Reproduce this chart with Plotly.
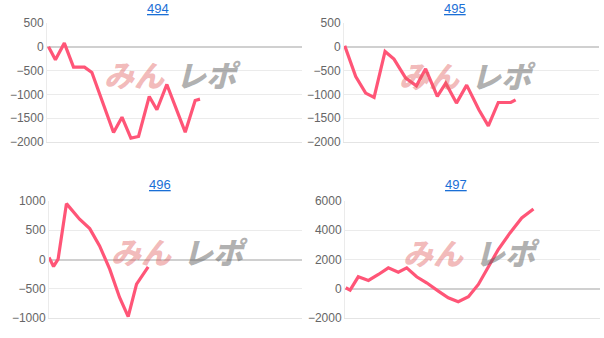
import plotly.graph_objects as go

titles = ["494", "495", "496", "497"]

x494 = [0.6, 3.3, 6.8, 10.4, 14.7, 17.6, 26.1, 29.4, 32.9, 35.9, 40.1, 43.1, 47.0, 54.2, 58.1, 60.0]
y494 = [0, -273, 77, -427, -427, -540, -1800, -1478, -1919, -1884, -1043, -1323, -791, -1793, -1127, -1100]

x495 = [0.3, 4.6, 8.5, 11.8, 16.1, 19.6, 24.2, 28.4, 32.0, 36.6, 39.9, 44.1, 48.1, 52.9, 56.6, 60.5, 65.4, 67.3]
y495 = [20, -623, -973, -1064, -98, -259, -658, -820, -462, -1043, -763, -1183, -805, -1323, -1660, -1170, -1170, -1113]

x496 = [0.0, 1.8, 3.6, 6.9, 12.1, 16.1, 20.0, 24.0, 27.9, 31.3, 34.6, 39.2]
y496 = [34, -119, 6, 955, 688, 528, 233, -165, -648, -977, -420, -125]

x497 = [0.3, 2.0, 5.2, 9.2, 13.1, 17.0, 20.9, 24.2, 28.1, 32.0, 36.6, 40.5, 44.4, 48.4, 52.3, 56.2, 60.1, 64.7, 69.3, 73.9]
y497 = [68, -90, 818, 568, 977, 1432, 1136, 1432, 818, 409, -159, -614, -886, -545, 295, 1545, 2682, 3818, 4841, 5455]

yranges = [[-2000, 500], [-2000, 500], [-1000, 1000], [-2000, 6000]]
ydticks = [500, 500, 500, 2000]

W, H = 604, 338
# plot areas in pixels: (left, right, top, bottom)
areas = [(47, 302, 23, 142), (344, 599, 23, 142), (49, 302, 201, 318), (345, 600, 201, 318)]
title_pos = [(158, 8), (455, 8), (160, 184), (456, 184)]
wm_pos = [(171, 74), (466, 75), (178, 251), (470, 252)]

data_x = [x494, x495, x496, x497]
data_y = [y494, y495, y496, y497]

fig = go.Figure()
layout = dict(
    width=W, height=H, margin=dict(l=0, r=0, t=0, b=0, pad=0),
    paper_bgcolor="white", plot_bgcolor="white", showlegend=False,
    font=dict(family="Liberation Sans, Arial, sans-serif", size=12, color="#666666"),
)
annotations = []
for i in range(4):
    l, r, t, b = areas[i]
    xa = "xaxis" if i == 0 else f"xaxis{i+1}"
    ya = "yaxis" if i == 0 else f"yaxis{i+1}"
    xr = "x" if i == 0 else f"x{i+1}"
    yr = "y" if i == 0 else f"y{i+1}"
    fig.add_trace(go.Scatter(
        x=data_x[i], y=data_y[i], mode="lines",
        line=dict(color="#ff5577", width=3.2), xaxis=xr, yaxis=yr,
        hoverinfo="skip"))
    layout[xa] = dict(domain=[l / W, r / W], range=[0, 100], showticklabels=False,
                      showgrid=False, zeroline=False, showline=True,
                      linecolor="#e4e4e4", linewidth=1, anchor=yr, fixedrange=True,
                      automargin=False)
    layout[ya] = dict(domain=[1 - b / H, 1 - t / H], range=yranges[i], dtick=ydticks[i],
                      showgrid=True, gridcolor="#ebebeb", gridwidth=1,
                      zeroline=True, zerolinecolor="#d0d0d0", zerolinewidth=1.5,
                      showline=True, linecolor="#ebebeb", linewidth=1,
                      ticks="", ticklen=0, anchor=xr, fixedrange=True, automargin=False,
                      tickfont=dict(size=12, color="#666666"))
    tx, ty = title_pos[i]
    annotations.append(dict(text=f"<u>{titles[i]}</u>", x=tx / W, y=1 - ty / H,
                            xref="paper", yref="paper", showarrow=False,
                            xanchor="center", yanchor="middle",
                            font=dict(size=13, color="#1a6fd6",
                                      family="Liberation Sans, Arial, sans-serif")))
    wx, wy = wm_pos[i]
    annotations.append(dict(text="<i>みん</i>", x=(wx - 4) / W, y=1 - wy / H,
                            xref="paper", yref="paper", showarrow=False,
                            xanchor="right", yanchor="middle",
                            font=dict(size=30, color="rgba(225,90,90,0.42)", weight=900,
                                      family="Noto Sans CJK JP")))
    annotations.append(dict(text="<i>レポ</i>", x=(wx + 3) / W, y=1 - wy / H,
                            xref="paper", yref="paper", showarrow=False,
                            xanchor="left", yanchor="middle",
                            font=dict(size=30, color="rgba(100,100,100,0.5)", weight=900,
                                      family="Noto Sans CJK JP")))
layout["annotations"] = annotations
fig.update_layout(**layout)
fig.write_html("out.html")
